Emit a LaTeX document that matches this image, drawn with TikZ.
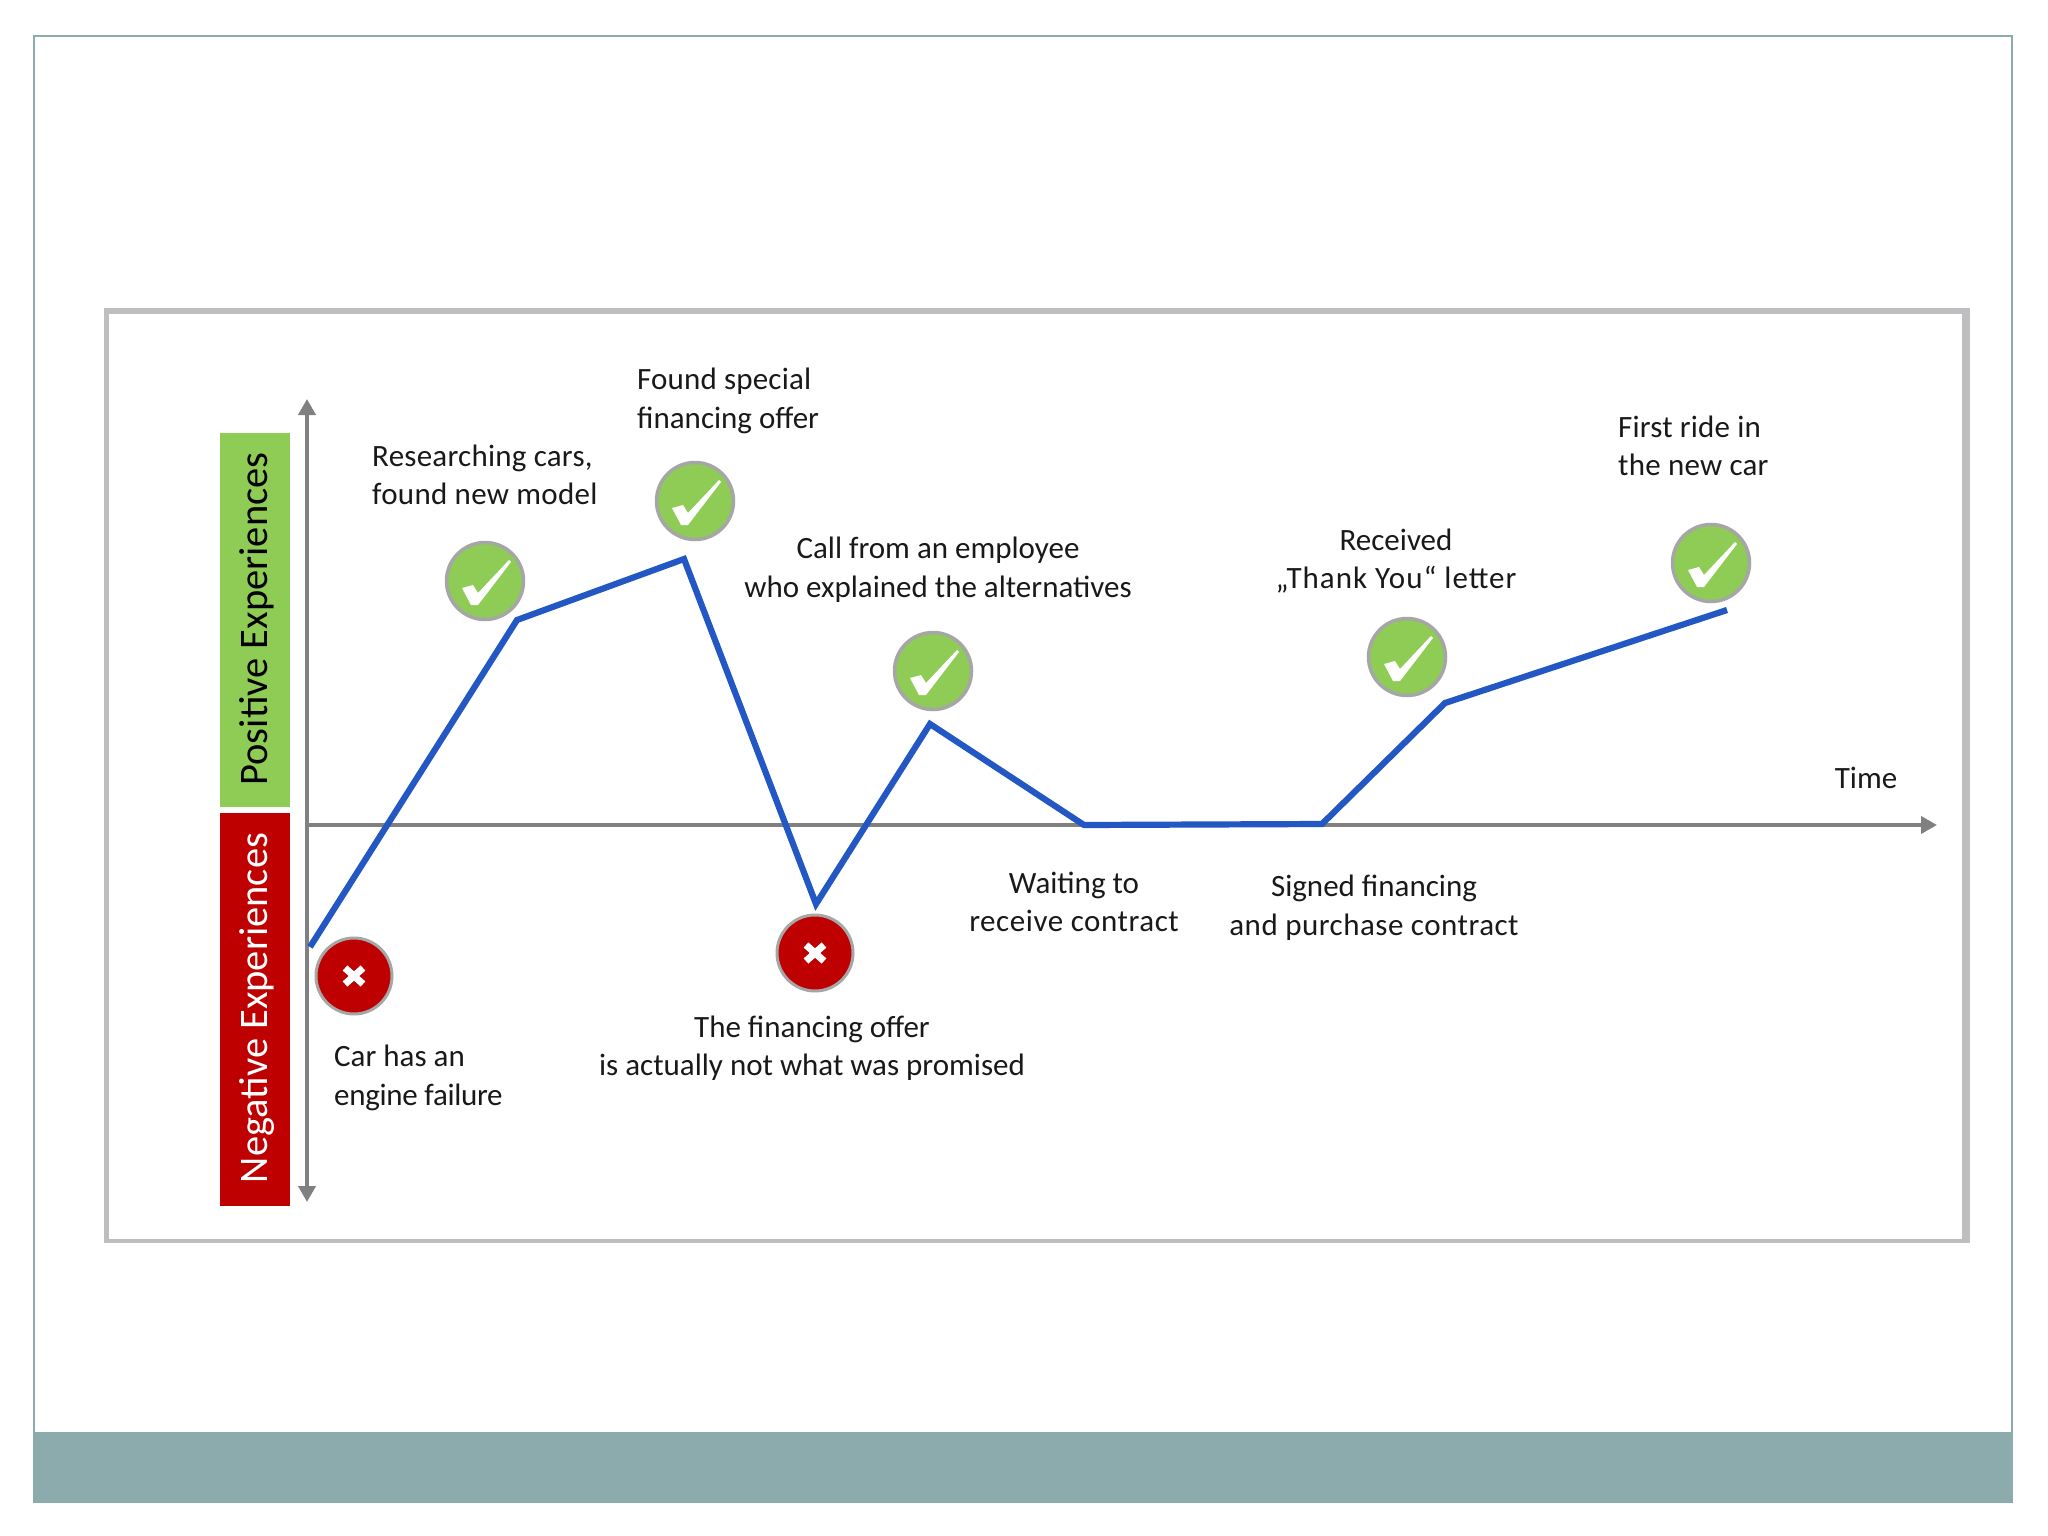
\documentclass[tikz,border=0pt]{standalone}
\usepackage{fontspec}
\setmainfont{Carlito}
\usetikzlibrary{arrows.meta}
\definecolor{bandteal}{HTML}{8BABAC}
\definecolor{framegray}{HTML}{BEBEC1}
\definecolor{axisgray}{HTML}{808080}
\definecolor{posgreen}{HTML}{8ECC56}
\definecolor{negred}{HTML}{BF0000}
\definecolor{curveblue}{HTML}{2257C4}
\newcommand{\spreadtext}[2]{{\addfontfeature{LetterSpace=#1}#2}}
\tikzset{
  x=1pt,y=-1pt,
  lbl/.style={inner sep=0pt,text=black!90,font=\fontsize{31}{38.5}\selectfont},
  lblc/.style={lbl,align=center,anchor=center},
  lbll/.style={lbl,align=left,anchor=west},
  sidebar/.style={draw=none,minimum width=70pt,inner sep=0pt},
  sidetext/.style={inner sep=0pt,rotate=90,font=\fontsize{40.5}{44}\selectfont},
  axis/.style={draw=axisgray,line width=3.8pt,-{Triangle[length=16pt,width=17pt]}},
  good/.style={circle,fill=posgreen,draw=black!35,line width=3.5pt,minimum size=77pt,inner sep=0pt},
  bad/.style={circle,fill=negred,draw=black!35,line width=3pt,minimum size=76pt,inner sep=0pt},
  curve/.style={draw=curveblue,line width=6.2pt,line join=miter},
  pics/tick/.style={code={\fill[white] (-23,7)--(-12,4)--(-7,12)--(24,-21)--(26,-19)--(-7,24)--(-14,24)--cycle;}},
  pics/cross/.style={code={\draw[white,line width=7pt] (-9,-8)--(9,8) (9,-8)--(-9,8);}}
}
\begin{document}
\begin{tikzpicture}
\useasboundingbox (0,0) rectangle (2048,1536);
\fill[white] (0,0) rectangle (2048,1536);
% slide
\draw[bandteal,line width=2pt] (34,36) rectangle (2012,1502);
\fill[bandteal] (33,1432) rectangle (2013,1502);
% inner frame
\draw[framegray,line width=4.5pt] (106.5,311) rectangle (1965,1241);
\draw[framegray,line width=6pt] (104,311) -- (1968,311);
\draw[framegray,line width=8.5pt] (1966,308) -- (1966,1243);
% side bars
\node[sidebar,fill=posgreen,minimum height=374pt] (posbar) at (255,620) {};
\node[sidebar,fill=negred,minimum height=393pt] (negbar) at (255,1009.5) {};
\node[sidetext,text=black] (postxt) at (257,619) {Positive Experiences};
\node[sidetext,text=white] (negtxt) at (257,1008) {Negative Experiences};
% axes
\coordinate (ytop) at (307,399);
\coordinate (ybot) at (307,1202);
\coordinate (origin) at (307,825);
\coordinate (xend) at (1937,825);
\draw[axis] (origin) -- (ytop);
\draw[axis] (origin) -- (ybot);
\draw[axis] (origin) -- (xend);
% markers
\node[good] (g1) at (485,581) {};
\node[good] (g2) at (695,501) {};
\node[good] (g3) at (933,671) {};
\node[good] (g4) at (1407,657) {};
\node[good] (g5) at (1711,563) {};
\node[bad] (b1) at (354,976) {};
\node[bad] (b2) at (815,953) {};
\pic at (g1) {tick};
\pic at (g2) {tick};
\pic at (g3) {tick};
\pic at (g4) {tick};
\pic at (g5) {tick};
\pic at (b1) {cross};
\pic at (b2) {cross};
% curve
\coordinate (p0) at (310,947);
\coordinate (p1) at (517,620);
\coordinate (p2) at (684,559);
\coordinate (p3) at (816,904);
\coordinate (p4) at (930,724);
\coordinate (p5) at (1084,825);
\coordinate (p6) at (1322,824);
\coordinate (p7) at (1445,703);
\coordinate (p8) at (1727,610);
\draw[curve] (p0)--(p1)--(p2)--(p3)--(p4)--(p5)--(p6)--(p7)--(p8);
% labels
\node[lbll] (t1) at (372,475) {\spreadtext{0.8}{Researching cars,}\\\spreadtext{1}{found new model}};
\node[lbll] (t2) at (637,401) {\spreadtext{0.6}{Found special}\\financing offer};
\node[lblc] (t3) at (938,569.5) {Call from an employee\\who explained the alternatives};
\node[lblc] (t4) at (1396,561) {Received\\\spreadtext{3.2}{„Thank You“ letter}};
\node[lbll] (t5) at (1618,446) {\spreadtext{0.6}{First ride in}\\\spreadtext{0.8}{the new car}};
\node[lblc] (t6) at (1866,778) {Time};
\node[lblc] (t7) at (1074,902) {Waiting to\\\spreadtext{1.8}{receive contract}};
\node[lblc] (t8) at (1374,907.5) {Signed financing\\\spreadtext{1.6}{and purchase contract}};
\node[lblc] (t9) at (812,1048) {The financing offer\\is actually not what was promised};
\node[lbll] (t10) at (334,1078) {Car has an\\\spreadtext{-1}{engine failure}};
\end{tikzpicture}
\end{document}
